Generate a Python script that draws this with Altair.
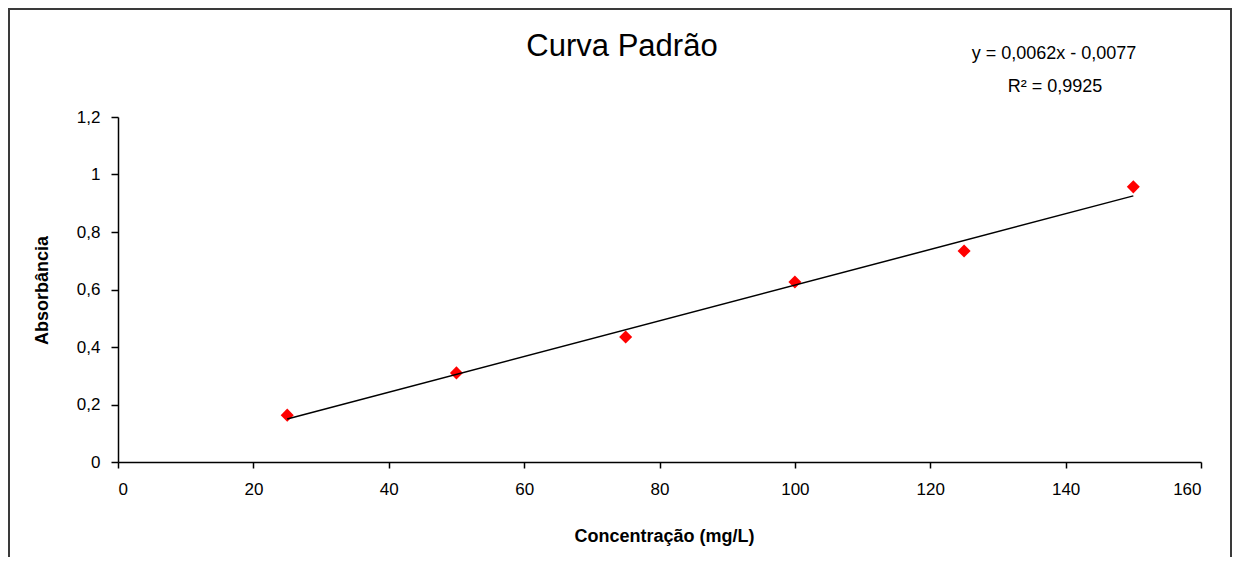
import altair as alt
import pandas as pd

# ---- data ----
conc = [25, 50, 75, 100, 125, 150]
absorb = [0.163, 0.310, 0.435, 0.626, 0.734, 0.957]
x_ticks = [0, 20, 40, 60, 80, 100, 120, 140, 160]
y_ticks = [0, 0.2, 0.4, 0.6, 0.8, 1.0, 1.2]
title_text = "Curva Padrão"
eq_text = "y = 0,0062x - 0,0077"
r2_text = "R² = 0,9925"
x_title = "Concentração (mg/L)"
y_title = "Absorbância"

df = pd.DataFrame({"conc": conc, "abs": absorb})
one = pd.DataFrame({"a": [0]})

FONT = "Liberation Sans"

x_enc = alt.X(
    "conc:Q",
    scale=alt.Scale(domain=[0, 160], nice=False),
    axis=alt.Axis(
        values=x_ticks, title=x_title, grid=False,
        domainColor="black", domainWidth=1.5,
        tickColor="black", tickSize=6, tickWidth=1.5,
        labelFont=FONT, labelFontSize=17, labelColor="black", labelPadding=13,
        titleFont=FONT, titleFontSize=18, titleFontWeight="bold", titleColor="black",
        titleX=546, titleY=74, titleBaseline="middle",
    ),
)
y_enc = alt.Y(
    "abs:Q",
    scale=alt.Scale(domain=[0, 1.2], nice=False),
    axis=alt.Axis(
        values=y_ticks, title=y_title, grid=False,
        labelExpr="replace(format(datum.value, '~g'), '.', ',')",
        domainColor="black", domainWidth=1.5,
        tickColor="black", tickSize=7, tickWidth=1.5,
        labelFont=FONT, labelFontSize=17, labelColor="black", labelPadding=11,
        titleFont=FONT, titleFontSize=18, titleFontWeight="bold", titleColor="black",
        titleAngle=-90, titleX=-76, titleY=173, titleBaseline="middle", titleAlign="center",
    ),
)

base = alt.Chart(df)

points = base.mark_point(
    shape="diamond", filled=True, size=170, color="#FF0000", opacity=1
).encode(x=x_enc, y=y_enc)

trend = base.transform_regression("conc", "abs", method="linear").mark_line(
    color="black", strokeWidth=1.5
).encode(x="conc:Q", y="abs:Q")

border = alt.Chart(one).mark_rect(
    filled=False, stroke="#3a3a3a", strokeWidth=2, clip=False
).encode(x=alt.value(-109), x2=alt.value(1113), y=alt.value(-108), y2=alt.value(600))

title = alt.Chart(one).mark_text(
    text=title_text, font=FONT, fontSize=31, align="center", baseline="middle", color="black"
).encode(x=alt.value(504), y=alt.value(-70))

eq = alt.Chart(one).mark_text(
    text=eq_text, font=FONT, fontSize=18, align="center", baseline="middle", color="black"
).encode(x=alt.value(936), y=alt.value(-63))

r2 = alt.Chart(one).mark_text(
    text=r2_text, font=FONT, fontSize=18, align="center", baseline="middle", color="black"
).encode(x=alt.value(937), y=alt.value(-30))

chart = alt.layer(border, points, trend, title, eq, r2).properties(
    width=1083,
    height=345,
    padding={"left": 110, "top": 109, "right": 31, "bottom": 95},
    autosize=alt.AutoSizeParams(type="none"),
    background="white",
).configure_view(stroke=None)

chart.save("out.html", embed_options={"renderer": "svg", "actions": False})
